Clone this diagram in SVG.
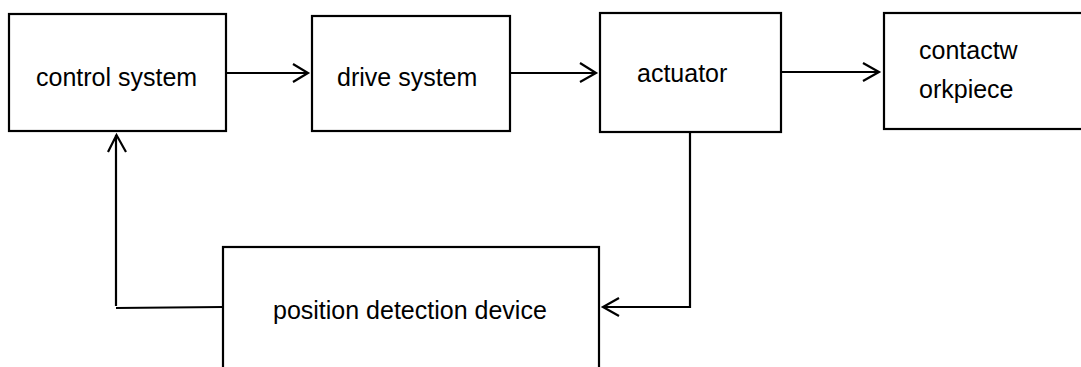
<svg xmlns="http://www.w3.org/2000/svg" width="1081" height="367" viewBox="0 0 1081 367">
<style>
.box{fill:#fff;stroke:#000;stroke-width:2.2}
.lbl{font-family:"Liberation Sans",Arial,sans-serif;font-size:25px;fill:#000}
.conn{fill:none;stroke:#000;stroke-width:2.2}
</style>
<rect width="1081" height="367" fill="#fff"/>
<g id="control-system">
<rect class="box" x="9" y="14" width="217" height="117"/>
<text class="lbl" x="36" y="86">control system</text>
</g>
<g id="drive-system">
<rect class="box" x="312" y="16" width="198" height="115"/>
<text class="lbl" x="337" y="86">drive system</text>
</g>
<g id="actuator">
<rect class="box" x="600" y="13" width="181" height="119"/>
<text class="lbl" x="637" y="82">actuator</text>
</g>
<g id="contact-workpiece">
<rect class="box" x="884" y="13" width="210" height="116"/>
<text class="lbl" x="919" y="59">contactw</text>
<text class="lbl" x="919" y="98">orkpiece</text>
</g>
<g id="position-detection-device">
<rect class="box" x="223" y="247" width="376" height="140"/>
<text class="lbl" x="273" y="319">position detection device</text>
</g>
<g id="connectors" class="conn">
<path d="M226 73H308M293 64L308 73L293 82"/>
<path d="M510 73H596M580 63L596 73L580 82"/>
<path d="M781 72H879M863 63L879 72L863 81"/>
<path d="M690 132V307H603M619 298L603 307L619 316"/>
<path d="M223 307L116 308M116 306V135M108 152L116.5 135L126 152"/>
</g>
</svg>
